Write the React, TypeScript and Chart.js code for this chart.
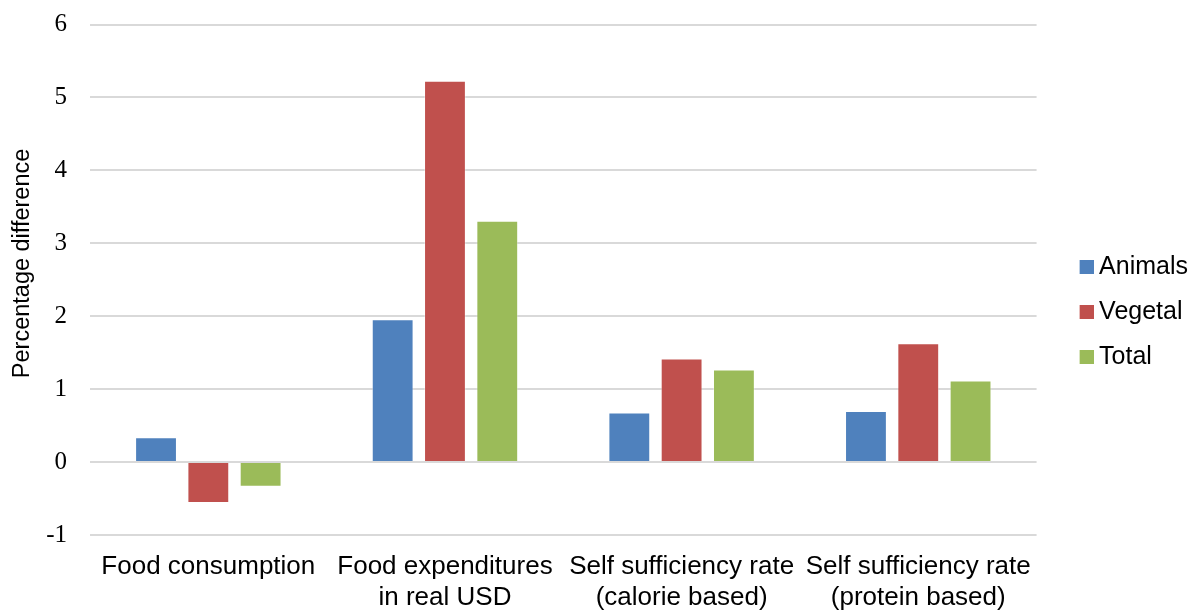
import React, { useEffect, useRef } from "react";
import { Chart, registerables } from "chart.js";

Chart.register(...registerables);

const categories: string[][] = [
  ["Food consumption"],
  ["Food expenditures", "in real USD"],
  ["Self sufficiency rate", "(calorie based)"],
  ["Self sufficiency rate", "(protein based)"],
];
const seriesNames = ["Animals", "Vegetal", "Total"];
const animals = [0.34, 1.96, 0.68, 0.7];
const vegetal = [-0.56, 5.23, 1.42, 1.63];
const total = [-0.34, 3.31, 1.27, 1.12];
const seriesColors = ["#4f81bd", "#c0504d", "#9bbb59"];
const yTicks = [-1, 0, 1, 2, 3, 4, 5, 6];

function makeMarker(color: string): HTMLCanvasElement {
  const c = document.createElement("canvas");
  c.width = 28;
  c.height = 14;
  const g = c.getContext("2d")!;
  g.fillStyle = color;
  g.fillRect(14, 0, 14, 14);
  return c;
}

export default function App() {
  const ref = useRef<HTMLCanvasElement>(null);
  useEffect(() => {
    document.body.style.margin = "0";
    const ctx = ref.current!;
    const edge = "rgba(255,255,255,0.35)";
    const markers = seriesColors.map(makeMarker);
    const values = [animals, vegetal, total];
    const chart = new Chart(ctx, {
      type: "bar",
      data: {
        labels: categories,
        datasets: seriesNames.map((name, i) => ({
          label: name,
          data: values[i],
          backgroundColor: seriesColors[i],
          borderColor: edge,
          borderWidth: 1,
          yAxisID: "y",
        })),
      },
      options: {
        animation: false,
        responsive: false,
        maintainAspectRatio: false,
        layout: { padding: { top: 0, right: -4, left: 0, bottom: 0 } },
        datasets: {
          bar: { categoryPercentage: 0.663, barPercentage: 0.8 },
        },
        plugins: {
          legend: {
            position: "right",
            title: { display: true, text: "", padding: 0, font: { size: 10, lineHeight: 1.4 } },
            labels: {
              boxWidth: 14,
              boxHeight: 14,
              padding: 20,
              usePointStyle: true,
              color: "#000",
              font: { family: "Liberation Sans, Arial, sans-serif", size: 25 },
              generateLabels: (c: any) => {
                const items = (Chart as any).defaults.plugins.legend.labels.generateLabels(c);
                items.forEach((it: any, i: number) => {
                  it.pointStyle = markers[i];
                });
                return items;
              },
            },
          },
          tooltip: { enabled: false },
        },
        scales: {
          x: {
            grid: { display: false, drawTicks: false },
            border: { display: false },
            afterFit: (axis: any) => {
              axis.height = 75;
            },
            ticks: {
              color: "#000",
              autoSkip: false,
              maxRotation: 0,
              minRotation: 0,
              padding: 16,
              font: { family: "Liberation Sans, Arial, sans-serif", size: 26, lineHeight: 1.2 },
            },
          },
          y: {
            min: -1,
            max: 6,
            afterBuildTicks: (axis: any) => {
              axis.ticks = yTicks.map((v) => ({ value: v }));
            },
            afterFit: (axis: any) => {
              axis.width = 90;
              axis.paddingTop = 24.5;
              axis.paddingBottom = 0;
            },
            grid: { color: "#d9d9d9", lineWidth: 2, drawTicks: false },
            border: { display: false },
            ticks: {
              color: "#000",
              padding: 23,
              font: { family: "Liberation Serif, Times New Roman, serif", size: 25 },
            },
            title: {
              display: true,
              text: "     Percentage difference",
              color: "#000",
              padding: { top: 8, bottom: 0 },
              font: { family: "Liberation Sans, Arial, sans-serif", size: 23.5 },
            },
          },
          gap: {
            type: "linear",
            position: "right",
            display: true,
            grid: { display: false, drawTicks: false },
            border: { display: false },
            ticks: { display: false },
            afterFit: (axis: any) => {
              axis.width = 16;
              axis.paddingTop = 0;
              axis.paddingBottom = 0;
            },
          },
        },
      },
    });
    return () => chart.destroy();
  }, []);
  return (
    <div style={{ width: 1194, height: 610, background: "#fff" }}>
      <canvas ref={ref} width={1194} height={610} style={{ display: "block" }} />
    </div>
  );
}
